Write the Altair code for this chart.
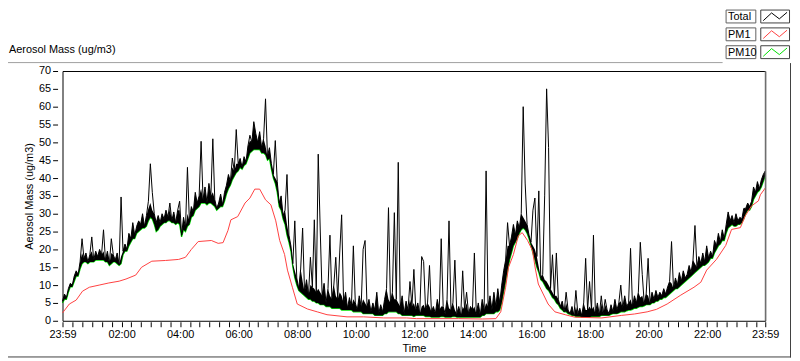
import altair as alt
import pandas as pd

# ---------------- data ----------------
START = pd.Timestamp("2024-01-01 23:59")
STEP_MIN = 4  # one reading every 4 minutes from 23:59 to 23:59

# Total aerosol mass (ug/m3), including the short spikes
total_vals = [
    5.5, 7.5, 6.5, 9.0, 10.5, 10.0, 12.5, 14.0, 13.0, 16.5,
    23.0, 17.5, 19.0, 16.5, 18.5, 23.5, 17.0, 19.5, 18.0, 20.0,
    18.5, 25.5, 17.0, 19.5, 16.0, 23.0, 18.5, 17.0, 19.0, 15.8,
    34.7, 19.5, 21.5, 20.0, 24.5, 23.0, 27.5, 24.0, 26.5, 28.0,
    27.0, 30.0, 26.5, 29.5, 33.5, 44.0, 36.0, 30.0, 27.5, 29.5,
    27.5, 30.0, 28.5, 31.0, 29.0, 33.0, 28.0, 30.5, 27.5, 31.0,
    33.5, 24.0, 29.0, 26.0, 43.0, 28.0, 32.0, 30.5, 36.0, 33.0,
    35.0, 50.3, 34.0, 37.5, 33.0, 38.5, 35.0, 51.0, 34.0, 31.5,
    33.0, 35.5, 32.5, 36.0, 38.0, 41.0, 39.0, 45.6, 42.0, 53.6,
    44.0, 45.5, 43.0, 46.0, 44.5, 49.0, 52.0, 50.0, 55.8, 52.5,
    50.0, 53.0, 48.5, 51.0, 62.2, 46.0, 48.5, 44.0, 41.0, 50.5,
    39.0, 33.0, 35.0, 29.5, 31.0, 41.0, 24.0, 21.0, 16.0, 28.0,
    12.0, 9.0, 14.5, 26.0, 8.0, 11.5, 7.0, 17.8, 9.5, 28.3,
    8.0, 46.7, 26.0, 7.0, 10.5, 5.0, 9.0, 24.0, 6.0, 10.0,
    17.8, 6.0, 19.0, 29.7, 5.0, 8.0, 3.5, 6.5, 4.0, 21.0,
    5.0, 3.0, 7.0, 4.0, 20.0, 22.5, 4.0, 6.0, 2.5, 5.0,
    3.0, 8.0, 2.0, 4.5, 2.5, 6.0, 9.0, 31.7, 5.0, 8.0,
    30.3, 6.0, 44.4, 4.0, 7.0, 2.0, 5.5, 3.0, 11.0, 4.0,
    14.4, 3.0, 5.0, 2.0, 18.0, 16.6, 3.0, 5.0, 15.5, 2.5,
    4.0, 2.0, 6.0, 3.0, 23.0, 4.0, 2.0, 6.0, 28.0, 3.0,
    5.0, 17.0, 2.0, 4.0, 1.5, 14.0, 3.0, 8.0, 2.0, 4.0,
    3.0, 19.0, 2.0, 5.0, 1.5, 6.0, 3.0, 42.0, 4.0, 7.0,
    3.0, 8.0, 4.0, 9.0, 5.0, 10.0, 14.0, 17.0, 27.5, 21.0,
    23.5, 27.0, 24.0, 28.0, 26.0, 30.0, 60.0, 38.6, 27.0, 24.0,
    22.0, 31.0, 34.4, 18.0, 36.4, 12.0, 13.0, 35.0, 65.0, 48.6,
    9.0, 18.5, 7.0, 19.0, 6.0, 4.0, 5.5, 2.5, 8.0, 3.0,
    2.0, 4.0, 1.5, 8.5, 2.0, 3.5, 1.5, 5.0, 17.5, 3.0,
    11.0, 3.0, 24.0, 2.0, 5.0, 1.5, 7.0, 2.0, 6.0, 3.0,
    2.0, 4.5, 2.5, 6.0, 3.0, 5.0, 10.0, 3.5, 7.0, 4.0,
    5.0, 20.3, 4.0, 7.0, 5.0, 8.0, 22.0, 13.0, 5.0, 7.5,
    17.5, 5.0, 8.0, 6.0, 8.5, 6.5, 8.0, 7.0, 9.0, 7.5,
    9.5, 11.0, 22.2, 9.0, 12.0, 10.0, 13.5, 11.0, 14.0, 12.0,
    13.0, 15.5, 13.5, 17.0, 26.7, 15.0, 18.0, 16.0, 19.0, 16.5,
    21.0, 17.5, 19.5, 18.0, 22.5, 21.0, 24.5, 22.0, 25.5, 23.0,
    27.0, 30.5, 28.0, 29.5, 27.5, 30.0, 28.0, 29.0, 28.5, 31.5,
    31.5, 33.0, 32.0, 33.5, 37.5, 36.0, 39.0, 37.0, 39.5, 41.0,
    42.0,
]

# Upper edge of the dense part of the Total trace (spikes left out)
band_top_vals = [
    5.5, 7.5, 6.5, 9.0, 10.5, 10.0, 12.5, 14.0, 13.0, 16.5,
    19.0, 17.5, 19.0, 16.5, 18.5, 19.5, 17.0, 19.5, 18.0, 20.0,
    18.5, 19.5, 17.0, 19.5, 16.0, 19.0, 18.5, 17.0, 19.0, 15.8,
    18.0, 19.5, 21.5, 20.0, 24.5, 23.0, 27.5, 24.0, 26.5, 28.0,
    27.0, 30.0, 26.5, 29.5, 31.5, 33.0, 31.0, 30.0, 27.5, 29.5,
    27.5, 30.0, 28.5, 31.0, 29.0, 31.5, 28.0, 30.5, 27.5, 31.0,
    31.0, 24.0, 29.0, 26.0, 30.0, 28.0, 32.0, 30.5, 36.0, 33.0,
    35.0, 37.0, 34.0, 37.5, 33.0, 38.5, 35.0, 36.0, 34.0, 31.5,
    33.0, 35.5, 32.5, 36.0, 38.0, 41.0, 39.0, 43.0, 42.0, 44.0,
    44.0, 45.5, 43.0, 46.0, 44.5, 49.0, 50.5, 50.0, 55.8, 52.5,
    50.0, 53.0, 48.5, 51.0, 49.0, 46.0, 48.5, 44.0, 41.0, 40.0,
    39.0, 33.0, 35.0, 29.5, 31.0, 27.0, 24.0, 21.0, 16.0, 14.0,
    12.0, 9.0, 14.5, 11.0, 8.0, 11.5, 7.0, 10.0, 9.5, 9.0,
    8.0, 9.0, 8.0, 7.0, 10.5, 5.0, 9.0, 7.0, 6.0, 10.0,
    7.0, 6.0, 8.0, 7.0, 5.0, 8.0, 3.5, 6.5, 4.0, 6.0,
    5.0, 3.0, 7.0, 4.0, 6.0, 5.0, 4.0, 6.0, 2.5, 5.0,
    3.0, 8.0, 2.0, 4.5, 2.5, 6.0, 9.0, 6.0, 5.0, 8.0,
    6.0, 6.0, 5.0, 4.0, 7.0, 2.0, 5.5, 3.0, 6.0, 4.0,
    5.0, 3.0, 5.0, 2.0, 4.0, 4.5, 3.0, 5.0, 4.0, 2.5,
    4.0, 2.0, 6.0, 3.0, 4.0, 4.0, 2.0, 6.0, 3.5, 3.0,
    5.0, 3.0, 2.0, 4.0, 1.5, 4.0, 3.0, 5.0, 2.0, 4.0,
    3.0, 4.0, 2.0, 5.0, 1.5, 6.0, 3.0, 5.0, 4.0, 7.0,
    3.0, 8.0, 4.0, 9.0, 5.0, 10.0, 14.0, 17.0, 21.0, 21.0,
    23.5, 27.0, 24.0, 28.0, 26.0, 30.0, 29.0, 28.0, 27.0, 24.0,
    22.0, 21.0, 20.0, 18.0, 15.0, 12.0, 13.0, 11.5, 11.0, 10.0,
    9.0, 8.0, 7.0, 7.0, 6.0, 4.0, 5.5, 2.5, 5.0, 3.0,
    2.0, 4.0, 1.5, 4.0, 2.0, 3.5, 1.5, 5.0, 3.0, 3.0,
    4.0, 3.0, 4.0, 2.0, 5.0, 1.5, 5.0, 2.0, 4.5, 3.0,
    2.0, 4.5, 2.5, 6.0, 3.0, 5.0, 5.5, 3.5, 7.0, 4.0,
    5.0, 6.0, 4.0, 7.0, 5.0, 8.0, 6.5, 7.0, 5.0, 7.5,
    7.0, 5.0, 8.0, 6.0, 8.5, 6.5, 8.0, 7.0, 9.0, 7.5,
    9.5, 11.0, 10.5, 9.0, 12.0, 10.0, 13.5, 11.0, 14.0, 12.0,
    13.0, 15.5, 13.5, 17.0, 16.0, 15.0, 18.0, 16.0, 19.0, 16.5,
    21.0, 17.5, 19.5, 18.0, 22.5, 21.0, 24.5, 22.0, 25.5, 23.0,
    27.0, 30.5, 28.0, 29.5, 27.5, 30.0, 28.0, 29.0, 28.5, 31.5,
    31.5, 33.0, 32.0, 33.5, 37.5, 36.0, 39.0, 37.0, 39.5, 41.0,
    42.0,
]

# PM10 (ug/m3), same 4-minute times
pm10_vals = [
    5.0, 6.0, 6.0, 8.0, 9.5, 9.5, 11.0, 12.5, 12.5, 14.5,
    16.0, 16.5, 16.5, 16.0, 16.5, 16.5, 16.5, 17.0, 17.0, 17.0,
    17.0, 17.0, 16.5, 16.5, 15.5, 16.0, 16.5, 16.5, 16.0, 15.5,
    16.0, 18.5, 19.5, 19.5, 21.0, 22.0, 23.0, 23.0, 24.5, 25.0,
    25.5, 26.0, 26.0, 26.5, 28.0, 29.0, 28.5, 27.0, 25.0, 25.5,
    26.5, 27.0, 27.5, 27.5, 28.0, 28.0, 27.5, 27.5, 27.0, 27.5,
    27.0, 23.5, 25.5, 25.0, 26.5, 27.0, 29.0, 29.5, 31.0, 31.5,
    32.0, 33.0, 33.0, 33.0, 32.5, 33.0, 33.0, 32.5, 32.0, 31.0,
    31.5, 32.0, 32.0, 33.5, 35.5, 37.0, 38.0, 39.5, 40.5, 41.5,
    42.0, 43.0, 42.5, 43.5, 44.0, 45.5, 47.0, 47.5, 48.0, 48.0,
    48.0, 48.0, 47.0, 47.0, 46.5, 45.0, 45.5, 42.5, 40.0, 38.5,
    36.0, 32.0, 31.0, 28.5, 27.0, 24.0, 22.0, 19.5, 15.0, 12.0,
    10.0, 8.5, 8.0, 7.5, 7.0, 6.5, 6.0, 6.0, 5.5, 5.5,
    5.0, 5.0, 4.5, 4.5, 4.5, 4.0, 4.0, 4.0, 3.5, 3.5,
    3.5, 3.5, 3.5, 3.0, 3.0, 3.0, 3.0, 3.0, 3.0, 2.5,
    2.5, 2.5, 2.5, 2.5, 2.0, 2.0, 2.0, 2.0, 2.0, 2.0,
    1.5, 1.5, 1.5, 1.5, 1.5, 2.0, 2.0, 2.5, 2.5, 2.5,
    2.5, 2.5, 2.0, 2.0, 1.5, 1.5, 1.5, 1.5, 1.5, 1.5,
    1.2, 1.5, 1.5, 1.5, 1.5, 1.5, 1.2, 1.2, 1.2, 1.0,
    1.0, 1.0, 1.0, 1.0, 1.2, 1.2, 1.0, 1.0, 1.0, 1.0,
    1.2, 1.2, 1.0, 1.0, 1.0, 1.0, 1.0, 1.0, 1.0, 1.0,
    1.0, 1.0, 1.0, 1.0, 1.0, 1.5, 1.5, 2.0, 2.0, 2.0,
    2.0, 2.0, 2.5, 2.5, 3.0, 5.0, 8.0, 11.0, 14.0, 17.0,
    19.0, 21.0, 22.0, 23.0, 24.5, 25.5, 26.0, 25.5, 24.5, 23.0,
    21.0, 19.0, 17.0, 15.0, 13.5, 11.5, 11.0, 10.0, 9.0, 8.5,
    7.5, 6.5, 6.0, 5.0, 4.5, 3.5, 3.0, 2.5, 2.5, 2.0,
    1.8, 1.5, 1.5, 1.2, 1.2, 1.2, 1.0, 1.0, 1.0, 1.0,
    1.0, 1.2, 1.2, 1.2, 1.2, 1.2, 1.5, 1.5, 1.5, 1.5,
    1.5, 1.8, 2.0, 2.0, 2.0, 2.2, 2.5, 2.5, 2.5, 2.8,
    3.0, 3.0, 3.2, 3.5, 3.5, 3.8, 4.0, 4.0, 4.2, 4.5,
    4.5, 4.5, 5.0, 5.0, 5.5, 5.5, 6.0, 6.0, 6.5, 6.5,
    7.0, 7.5, 8.0, 8.5, 9.0, 9.0, 9.5, 10.0, 10.5, 11.0,
    11.5, 12.0, 12.5, 13.0, 13.5, 14.0, 14.5, 15.0, 15.5, 15.5,
    16.0, 16.5, 17.5, 17.5, 19.0, 20.0, 21.0, 21.5, 22.5, 22.5,
    24.5, 26.0, 26.5, 27.0, 26.5, 26.5, 27.0, 27.0, 27.5, 28.5,
    30.0, 31.0, 31.0, 32.0, 34.0, 35.0, 36.0, 36.5, 37.5, 39.0,
    40.5,
]

# PM1 (ug/m3): minutes after 23:59 and value
pm1_minutes = [0, 14, 28, 41, 55, 75, 95, 116, 130, 150, 162, 183, 211, 238,
               252, 264, 278, 305, 319, 329, 339, 345, 359, 374, 384, 394, 404,
               416, 427, 437, 445, 455, 461, 471, 481, 502, 522, 542, 583, 617,
               658, 705, 725, 812, 861, 888, 898, 908, 914, 924, 934, 942, 953,
               963, 969, 975, 985, 995, 1009, 1030, 1050, 1105, 1145, 1172,
               1198, 1217, 1239, 1267, 1294, 1308, 1320, 1340, 1359, 1371, 1389,
               1399, 1412, 1426, 1430, 1440]
pm1_vals = [2.2, 4.7, 5.8, 8.3, 9.4, 10.0, 10.6, 11.1, 11.7, 12.8, 15.0, 16.7,
            16.9, 17.2, 17.8, 20.0, 22.2, 22.5, 21.7, 21.9, 25.3, 28.3, 29.2,
            33.0, 34.4, 36.9, 36.9, 33.9, 32.5, 28.0, 22.5, 18.6, 14.2, 9.4,
            4.7, 3.3, 2.5, 1.7, 1.1, 1.1, 0.8, 0.8, 0.6, 0.6, 0.5, 0.6, 2.5,
            9.4, 15.0, 18.6, 23.8, 24.7, 22.5, 19.7, 14.5, 10.3, 7.5, 4.7,
            2.5, 1.7, 1.0, 0.8, 1.5, 1.9, 2.5, 3.2, 4.7, 7.2, 9.4, 10.8, 14.2,
            17.2, 21.1, 25.6, 26.1, 29.4, 32.2, 33.6, 35.3, 37.2]

y_ticks = list(range(0, 75, 5))
series_names = ["Total", "PM1", "PM10"]
series_colors = ["#000000", "#ff4040", "#00e000"]

# ---------------- frames ----------------
main_df = pd.DataFrame({
    "t": [START + pd.Timedelta(minutes=STEP_MIN * i) for i in range(len(total_vals))],
    "total": total_vals,
    "band_top": band_top_vals,
    "pm10": pm10_vals,
})
pm1_df = pd.DataFrame({
    "t": [START + pd.Timedelta(minutes=m) for m in pm1_minutes],
    "pm1": pm1_vals,
})


def dt(day, h, m):
    return alt.DateTime(year=2024, month=1, date=day, hours=h, minutes=m)


x_ticks = [dt(1, 23, 59)]
for k in range(1, 72):
    mins = 20 * k
    x_ticks.append(dt(2, mins // 60, mins % 60))
x_ticks.append(dt(2, 23, 59))

FONT = "Liberation Sans"
W, H = 709, 252

x_enc = alt.X(
    "t:T",
    scale=alt.Scale(domain=[dt(1, 23, 59), dt(2, 23, 59)]),
    axis=alt.Axis(
        values=x_ticks,
        labelExpr="((minutes(datum.value) == 0 && hours(datum.value) % 2 == 0) || "
                  "(hours(datum.value) == 23 && minutes(datum.value) == 59)) ? "
                  "timeFormat(datum.value, '%H:%M') : ''",
        labelOverlap=False, labelFlush=False, labelBound=False,
        tickSize=5, offset=1, domain=False, grid=False, labelPadding=2,
        title="Time", titlePadding=3,
    ),
)
y_scale = alt.Scale(domain=[0, 70], nice=False, zero=True)
y_axis = alt.Axis(
    values=y_ticks, tickSize=5, offset=5, domain=False, grid=False,
    labelPadding=2, title="Aerosol Mass (ug/m3)", titlePadding=4,
)

base = alt.Chart(main_df)
green = base.mark_line(color=series_colors[2], strokeWidth=1.3).encode(
    x=x_enc, y=alt.Y("pm10:Q", scale=y_scale, axis=y_axis))
black_band = base.mark_area(color=series_colors[0], opacity=1).encode(
    x=x_enc, y=alt.Y("band_top:Q", scale=y_scale, axis=y_axis), y2="pm10:Q")
black = base.mark_line(color=series_colors[0], strokeWidth=1).encode(
    x=x_enc, y=alt.Y("total:Q", scale=y_scale, axis=y_axis))
red = alt.Chart(pm1_df).mark_line(color=series_colors[1], strokeWidth=1).encode(
    x=x_enc, y=alt.Y("pm1:Q", scale=y_scale, axis=y_axis))

one = alt.Data(values=[{"a": 1}])

# decorations (frame, right edge, top-left caption)
right_edge = alt.Chart(one).mark_rule(color="#808080", strokeWidth=1).encode(
    x=alt.value(W), y=alt.value(0), y2=alt.value(H))
frame_top = alt.Chart(one).mark_rule(color="#a0a0a0", strokeWidth=1).encode(
    x=alt.value(-55), x2=alt.value(666), y=alt.value(-8.5))
frame_right = alt.Chart(one).mark_rule(color="#404040", strokeWidth=1).encode(
    x=alt.value(734.5), y=alt.value(-8), y2=alt.value(289))
frame_bottom = alt.Chart(one).mark_rule(color="#404040", strokeWidth=1).encode(
    x=alt.value(-55), x2=alt.value(735), y=alt.value(288.5))
caption = alt.Chart(one).mark_text(
    text="Aerosol Mass (ug/m3)", align="left", baseline="middle",
    font=FONT, fontSize=11, color="black").encode(x=alt.value(-54), y=alt.value(-21))

# legend boxes: label + sample
ZIG = "M-1,0.35L-0.3,-0.3L0.35,0.2L1,-0.35"
row_tops = [-62, -44, -26]
legend_layers = []
for name, col, top in zip(series_names, series_colors, row_tops):
    d = alt.Data(values=[{"n": name}])
    legend_layers.append(alt.Chart(d).mark_rect(fill="white", stroke="#606060", strokeWidth=1).encode(
        x=alt.value(669.5), x2=alt.value(699.5), y=alt.value(top + 0.5), y2=alt.value(top + 13.5)))
    legend_layers.append(alt.Chart(d).mark_rect(fill="white", stroke="#404040", strokeWidth=1).encode(
        x=alt.value(704.5), x2=alt.value(733.5), y=alt.value(top + 0.5), y2=alt.value(top + 13.5)))
    legend_layers.append(alt.Chart(d).mark_text(
        align="left", baseline="middle", font=FONT, fontSize=11, color="black").encode(
        text="n:N", x=alt.value(671.5), y=alt.value(top + 7.5)))
    legend_layers.append(alt.Chart(d).mark_point(
        shape=ZIG, filled=False, size=576, strokeWidth=1, color=col, opacity=1).encode(
        x=alt.value(719), y=alt.value(top + 7)))

chart = alt.layer(
    green, black_band, black, red, right_edge, frame_top, frame_right, frame_bottom,
    caption, *legend_layers
).properties(
    width=W, height=H,
    padding={"left": 55, "top": 62, "right": 27, "bottom": 38},
    autosize=alt.AutoSizeParams(type="none"),
    background="white",
).configure_view(
    stroke="black", strokeWidth=1,
).configure_axis(
    labelFont=FONT, titleFont=FONT, labelFontSize=11, titleFontSize=11,
    titleFontWeight="normal", labelColor="black", titleColor="black",
    tickColor="black", tickWidth=1,
)

chart.save("out.html", embed_options={"renderer": "svg", "actions": False})
